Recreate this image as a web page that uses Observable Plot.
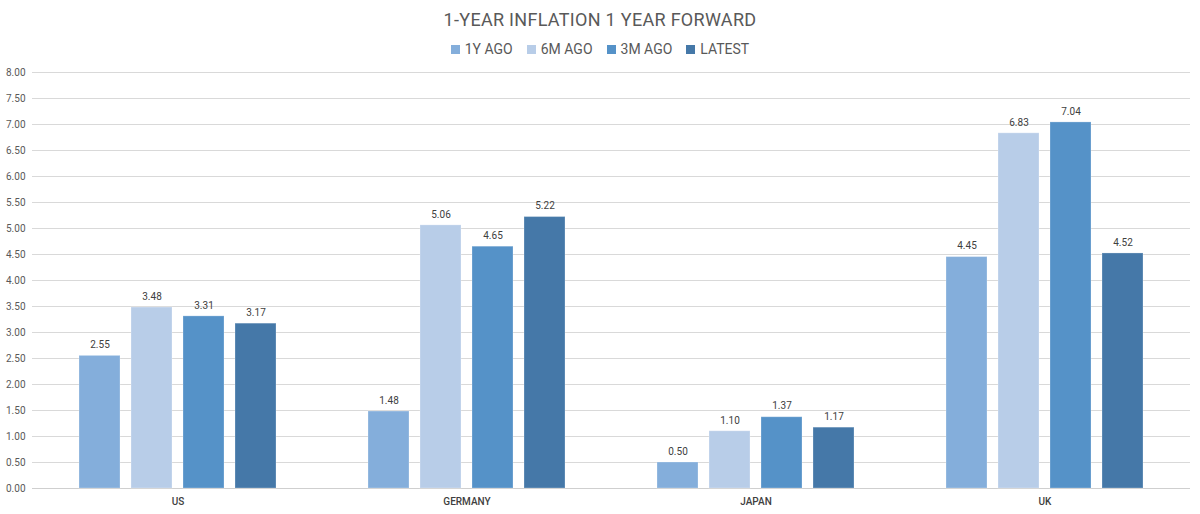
<!DOCTYPE html>
<html>
<head>
<meta charset="utf-8">
<script src="https://cdn.jsdelivr.net/npm/d3@7"></script>
<script src="https://cdn.jsdelivr.net/npm/@observablehq/plot@0.6"></script>
<style>
  html, body { margin: 0; padding: 0; background: #fff; }
  body { width: 1200px; height: 514px; overflow: hidden; font-family: Roboto, "DejaVu Sans", sans-serif; }
  #title { height: 36px; line-height: 40px; text-align: center; font-size: 18px; color: #595959; letter-spacing: 0.3px; }
  #legend { height: 26px; display: flex; justify-content: center; align-items: center; gap: 14px; font-size: 14px; color: #595959; }
  .item { display: flex; align-items: center; gap: 5px; }
  .sw { width: 9px; height: 9px; display: inline-block; }
</style>
</head>
<body>
<div id="title">1-YEAR INFLATION 1 YEAR FORWARD</div>
<div id="legend"></div>
<div id="chart"></div>
<script>
const categories = ["US", "GERMANY", "JAPAN", "UK"];
const seriesNames = ["1Y AGO", "6M AGO", "3M AGO", "LATEST"];
const oneYearAgo = [2.55, 1.48, 0.50, 4.45];
const sixMonthsAgo = [3.48, 5.06, 1.10, 6.83];
const threeMonthsAgo = [3.31, 4.65, 1.37, 7.04];
const latest = [3.17, 5.22, 1.17, 4.52];
const colors = ["#84AEDB", "#B8CDE8", "#5592C8", "#4578A8"];
const yTicks = [0, 0.5, 1, 1.5, 2, 2.5, 3, 3.5, 4, 4.5, 5, 5.5, 6, 6.5, 7, 7.5, 8];

const seriesValues = [oneYearAgo, sixMonthsAgo, threeMonthsAgo, latest];
const data = [];
categories.forEach((c, i) => {
  seriesNames.forEach((s, j) => {
    data.push({country: c, series: s, value: seriesValues[j][i]});
  });
});

const legend = document.getElementById("legend");
seriesNames.forEach((s, j) => {
  const it = document.createElement("span");
  it.className = "item";
  it.innerHTML = `<span class="sw" style="background:${colors[j]}"></span><span>${s}</span>`;
  legend.appendChild(it);
});

const chart = Plot.plot({
  width: 1200,
  height: 452,
  marginLeft: 33,
  marginRight: 10,
  marginTop: 10,
  marginBottom: 26,
  style: { fontFamily: "Roboto, 'DejaVu Sans', sans-serif", fontSize: "10px", color: "#595959", background: "#fff" },
  fx: { domain: categories, paddingInner: 0.31, paddingOuter: 0.155, label: null },
  x: { domain: seriesNames, axis: null, paddingInner: 0.22, paddingOuter: 0 },
  y: { domain: [0, 8], label: null },
  color: { domain: seriesNames, range: colors },
  marks: [
    Plot.ruleY(yTicks, { y: d => d, stroke: "#d9d9d9", strokeWidth: 1, insetLeft: -46, insetRight: -46 }),
    Plot.ruleY([0], { stroke: "#cfcfcf", insetLeft: -46, insetRight: -46 }),
    Plot.axisY(yTicks, { tickFormat: d => d.toFixed(2), tickSize: 0, tickPadding: 53, label: null, fill: "#595959" }),
    Plot.axisFx({ anchor: "bottom", tickSize: 0, tickPadding: 9, label: null, fontWeight: 500, fill: "#404040" }),
    Plot.barY(data, { fx: "country", x: "series", y: "value", fill: "series", stroke: "#ffffff", strokeOpacity: 0.25, strokeWidth: 1 }),
    Plot.text(data, { fx: "country", x: "series", y: "value", text: d => d.value.toFixed(2), dy: -11, fill: "#404040", fontSize: 10 })
  ]
});
document.getElementById("chart").appendChild(chart);
</script>
</body>
</html>
